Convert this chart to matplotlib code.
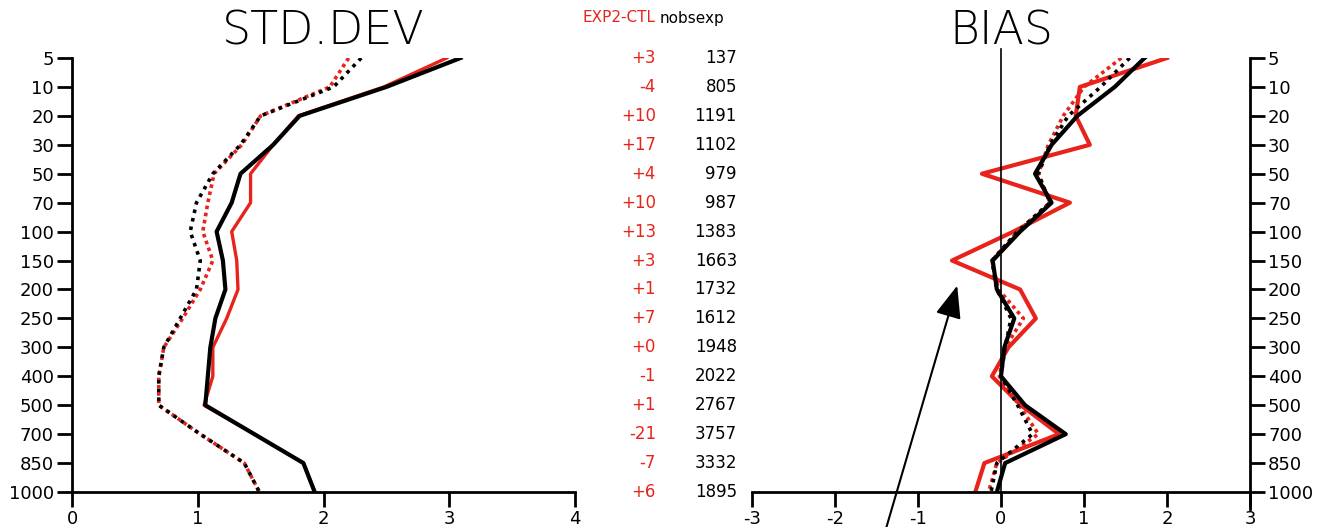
import numpy as np
import matplotlib
matplotlib.use("Agg")
import matplotlib.pyplot as plt
import matplotlib.transforms as mtransforms

plt.rcParams['axes.unicode_minus'] = False
plt.rcParams['font.family'] = ['DejaVu Sans']

# pressure levels (hPa), top to bottom
levels = [5, 10, 20, 30, 50, 70, 100, 150, 200, 250, 300, 400, 500, 700, 850, 1000]

# std dev profiles
std_ctl_fg = [3.09, 2.50, 1.81, 1.60, 1.34, 1.27, 1.15, 1.20, 1.22, 1.14, 1.10, 1.08, 1.06, 1.45, 1.84, 1.93]
std_exp_fg = [2.98, 2.48, 1.80, 1.60, 1.42, 1.42, 1.27, 1.31, 1.32, 1.23, 1.12, 1.12, 1.05, 1.45, 1.84, 1.93]
std_ctl_an = [2.30, 2.08, 1.50, 1.34, 1.12, 0.99, 0.94, 1.02, 0.99, 0.86, 0.73, 0.69, 0.69, 1.02, 1.37, 1.49]
std_exp_an = [2.20, 2.05, 1.50, 1.35, 1.13, 1.08, 1.04, 1.12, 1.02, 0.88, 0.73, 0.69, 0.69, 1.02, 1.37, 1.49]

# bias profiles
bias_ctl_fg = [1.73, 1.37, 0.92, 0.61, 0.41, 0.61, 0.23, -0.10, -0.05, 0.16, 0.04, 0.00, 0.29, 0.78, 0.05, -0.05]
bias_exp_fg = [2.00, 0.95, 0.90, 1.07, -0.23, 0.83, 0.15, -0.59, 0.23, 0.42, 0.09, -0.11, 0.24, 0.70, -0.20, -0.31]
bias_ctl_an = [1.55, 1.20, 0.81, 0.59, 0.45, 0.59, 0.20, -0.11, -0.05, 0.12, 0.05, 0.00, 0.20, 0.38, -0.05, -0.12]
bias_exp_an = [1.45, 1.00, 0.75, 0.57, 0.45, 0.59, 0.20, -0.11, -0.03, 0.27, 0.05, -0.02, 0.22, 0.45, -0.05, -0.15]

# numbers in the middle column
diff_labels = ["+3", "-4", "+10", "+17", "+4", "+10", "+13", "+3", "+1", "+7", "+0", "-1", "+1", "-21", "-7", "+6"]
nobs = [137, 805, 1191, 1102, 979, 987, 1383, 1663, 1732, 1612, 1948, 2022, 2767, 3757, 3332, 1895]

RED = '#e8231b'
W, H = 1321, 527
fig = plt.figure(figsize=(W / 100, H / 100), dpi=100)

ypos = np.arange(len(levels))
bot = (H - 492) / H
hgt = (492 - 58) / H

# ---- STD.DEV panel
ax1 = fig.add_axes([72 / W, bot, (575 - 72) / W, hgt])
ax1.plot(std_exp_fg, ypos, color=RED, lw=2.4)
ax1.plot(std_exp_an, ypos, color=RED, lw=2.6, ls=(0, (1, 1)))
ax1.plot(std_ctl_fg, ypos, color='black', lw=3.0)
ax1.plot(std_ctl_an, ypos, color='black', lw=2.6, ls=(0, (1, 1.4)))
ax1.set_xlim(0, 4)
ax1.set_ylim(len(levels) - 1, 0)
ax1.set_xticks([0, 1, 2, 3, 4])
ax1.set_yticks(ypos)
ax1.set_yticklabels([str(l) for l in levels])
for s in ['top', 'right']:
    ax1.spines[s].set_visible(False)
for s in ['left', 'bottom']:
    ax1.spines[s].set_linewidth(2)
ax1.tick_params(axis='both', direction='out', length=11, width=2, labelsize=13, pad=2)
ax1.text(0.5, 1.01, "STD.DEV", transform=ax1.transAxes, ha='center', va='bottom',
         fontsize=33, fontweight='light')

# ---- BIAS panel
ax2 = fig.add_axes([752 / W, bot, (1250 - 752) / W, hgt])
ax2.plot(bias_exp_fg, ypos, color=RED, lw=3.0)
ax2.plot(bias_exp_an, ypos, color=RED, lw=2.6, ls=(0, (1, 1)))
ax2.plot(bias_ctl_fg, ypos, color='black', lw=3.0)
ax2.plot(bias_ctl_an, ypos, color='black', lw=2.6, ls=(0, (1, 1.4)))
ax2.axvline(0, ymin=0, ymax=1.02, color='black', lw=1.2, clip_on=False)
ax2.set_xlim(-3, 3)
ax2.set_ylim(len(levels) - 1, 0)
ax2.set_xticks([-3, -2, -1, 0, 1, 2, 3])
ax2.set_xticklabels(["-3", "-2", "-1", "0", "1", "2", "3"])
ax2.set_yticks(ypos)
ax2.set_yticklabels([str(l) for l in levels])
ax2.yaxis.tick_right()
for s in ['top', 'left']:
    ax2.spines[s].set_visible(False)
for s in ['right', 'bottom']:
    ax2.spines[s].set_linewidth(2)
ax2.spines['right'].set_bounds(len(levels) - 1 + 0.6, 0)
ax2.tick_params(axis='both', direction='out', length=11, width=2, labelsize=13, pad=2)
ax2.text(0.5, 1.01, "BIAS", transform=ax2.transAxes, ha='center', va='bottom',
         fontsize=33, fontweight='light')

# ---- middle columns
trans = mtransforms.blended_transform_factory(fig.transFigure, ax1.transData)
fig.text(656 / W, 1 - 18 / H, "EXP2-CTL", color=RED, ha='right', va='center', fontsize=11)
fig.text(660 / W, 1 - 18 / H, "nobsexp", color='black', ha='left', va='center', fontsize=11)
for i in range(len(levels)):
    fig.text(656 / W, ypos[i], diff_labels[i], transform=trans, color=RED,
             ha='right', va='center', fontsize=12)
    fig.text(737 / W, ypos[i], str(nobs[i]), transform=trans, color='black',
             ha='right', va='center', fontsize=12)

# ---- arrow
fig.patches.append(matplotlib.patches.FancyArrowPatch(
    (885, -5), (958, H - 283), transform=None, arrowstyle='-|>,head_length=20,head_width=8',
    color='black', lw=1.5, mutation_scale=1))

fig.savefig("out.png", dpi=100)
